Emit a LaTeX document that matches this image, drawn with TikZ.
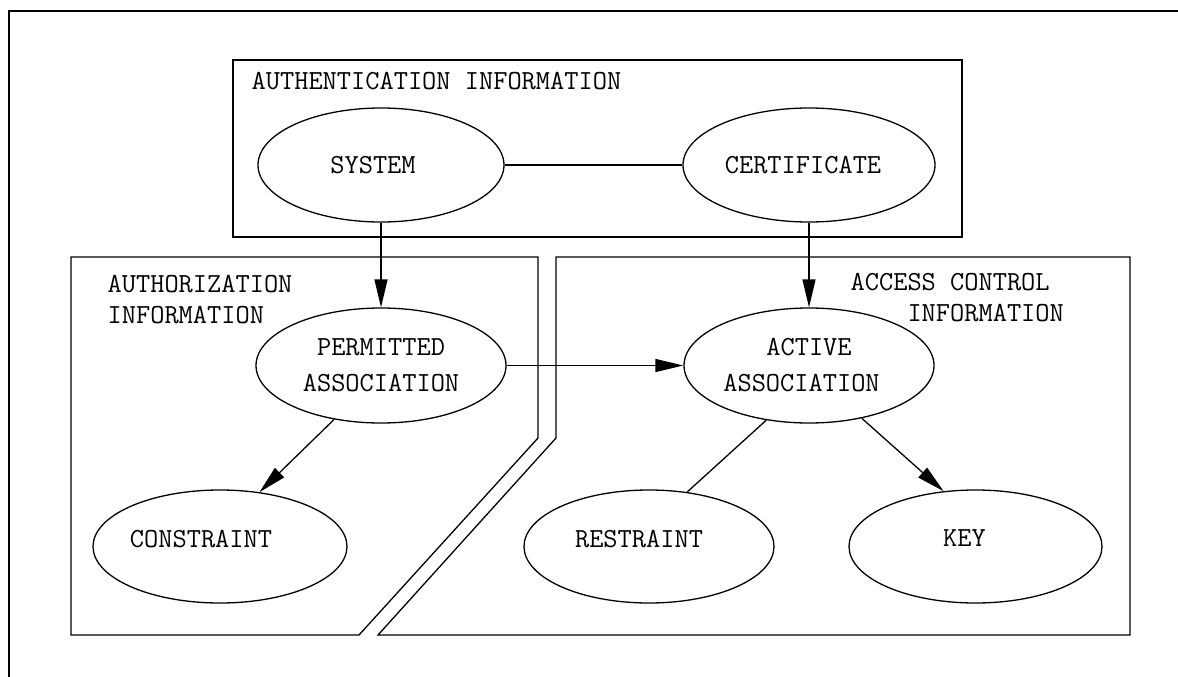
\documentclass[tikz,border=0pt]{standalone}
\usetikzlibrary{shapes.geometric,arrows.meta}
\begin{document}
\begin{tikzpicture}[x=1pt,y=-1pt,
  line width=1.3pt,
  every node/.style={font=\fontsize{27.6}{31}\selectfont\ttfamily},
  oval/.style={ellipse,draw,inner sep=0pt},
  arr/.style={-{Triangle[length=28pt,width=13pt]}},
  lowtext/.style={text depth=16pt},
  lbl/.style={inner sep=0pt,align=left}
]
\useasboundingbox (0,0) rectangle (1178,677);
% outer frame
\draw[line width=1.6pt] (9,677) -- (9,11) -- (1178,11);
% regions
\draw (233,60) rectangle (962,237);
\draw (71,257) -- (538,257) -- (538,438) -- (359,635) -- (71,635) -- cycle;
\draw (556,257) -- (1130,257) -- (1130,635) -- (378,635) -- (556,438) -- cycle;
% labels
\node[lbl,anchor=base west] (lauth) at (251,89) {AUTHENTICATION INFORMATION};
\node[lbl,anchor=north west] (lauthz) at (107,275) {AUTHORIZATION\\INFORMATION};
\node[lbl,anchor=north west] (lacc) at (850,273) {ACCESS CONTROL\\\hphantom{XXXX}INFORMATION};
% ellipses
\node[oval,minimum width=246pt,minimum height=114pt] (sys) at (381,165) {\hspace*{-8pt}SYSTEM\hspace*{8pt}};
\node[oval,minimum width=252pt,minimum height=114pt] (cert) at (809,165) {\hspace*{-6pt}CERTIFICATE\hspace*{6pt}};
\node[oval,align=center,minimum width=250pt,minimum height=115pt] (perm) at (381,365.5) {PERMITTED\\[5pt]ASSOCIATION};
\node[oval,align=center,minimum width=250pt,minimum height=115pt] (act) at (809,365.5) {ACTIVE\\[5pt]ASSOCIATION\hspace*{15pt}};
\node[oval,lowtext,minimum width=254pt,minimum height=113pt] (cons) at (220,546.5) {\hspace*{-19pt}CONSTRAINT\hspace*{19pt}};
\node[oval,lowtext,minimum width=250pt,minimum height=113pt] (rest) at (649,546.5) {\hspace*{-10pt}RESTRAINT\hspace*{10pt}};
\node[oval,lowtext,minimum width=253pt,minimum height=113pt] (key) at (975.5,546.5) {\hspace*{-11pt}KEY\hspace*{11pt}};
% connectors
\draw (sys) -- (cert);
\draw[arr] (sys) -- (perm);
\draw[arr] (cert) -- (act);
\draw[arr] (perm) -- (act);
\draw[arr] (perm.229.4) -- (cons.54.4);
\draw (act.232.1) -- (rest.55.6);
\draw[arr] (act.315.3) -- (key.120.8);
\end{tikzpicture}
\end{document}
